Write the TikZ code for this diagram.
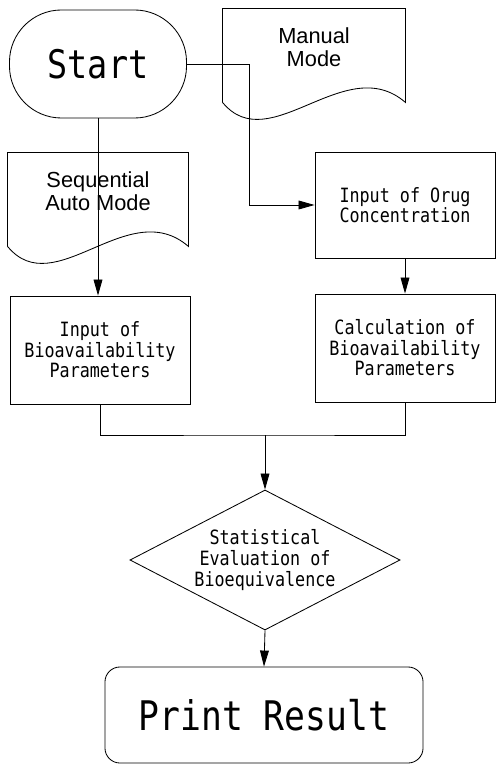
\documentclass[tikz,border=0pt]{standalone}
\usepackage{fontspec}
\usetikzlibrary{arrows.meta,positioning,shapes.geometric}
\newfontfamily\flowmono[FakeStretch=0.85]{DejaVu Sans Mono}
\newfontfamily\flowsans{Liberation Sans}

% document symbol: flat top, wavy bottom hanging below the node
\newcommand\docoutline[1]{%
  \draw (#1.north west) -- (#1.north east) -- ([yshift=-0.425cm]#1.south east)
    .. controls +(-60,-52) and +(47,57) .. ([yshift=-0.425cm]#1.south west) -- cycle;}

\begin{document}
\begin{tikzpicture}[
  x=0.025cm,y=-0.025cm,line width=0.6pt,
  txt/.style={font={\flowmono\fontsize{14}{14.6}\selectfont},align=center},
  box/.style={draw,txt,inner sep=0pt,minimum width=4.5cm,minimum height=2.7cm},
  doc/.style={font={\flowsans\fontsize{15.5}{16.5}\selectfont},align=center,
              inner sep=0pt,minimum width=4.5cm,minimum height=1.9cm},
  term/.style={draw,inner sep=0pt,font={\flowmono\fontsize{28}{28}\selectfont}},
  arr/.style={-{Triangle[length=0.4cm,width=0.22cm]}}
]
\useasboundingbox (0,0) rectangle (499,766);
\node[term,minimum width=4.425cm,minimum height=2.7cm,rounded corners=1.3cm](start) at (98,64){Start};
\node[doc,minimum width=4.55cm](manual) at (314,47){Manual\\Mode};
\node[doc](seq) at (98,191){Sequential\\Auto Mode};
\node[box,minimum height=2.65cm](drug) at (405,205){Input of Orug\\Concentration};
\node[box](bioin) at (100,350){Input of\\Bioavailability\\Parameters};
\node[box](calc) at (405,348){Calculation of\\Bioavailability\\Parameters};
\node[diamond,draw,txt,inner sep=0pt,aspect=1.93,minimum width=6.75cm,minimum height=3.5cm](stat) at (265,560){Statistical\\Evaluation of\\Bioequivalence};
\node[term,font={\flowmono\fontsize{29}{29}\selectfont},minimum width=7.95cm,minimum height=2.4cm,rounded corners=0.375cm](print) at (264,715){Print Result};
\docoutline{manual}\docoutline{seq}
\coordinate (jog) at (249,0);
\coordinate (join) at (265,435);
\draw[arr](start.east)--(start.east-|jog)|-(drug.west);
\draw[arr](start.south)--(start.south|-bioin.north);
\draw[arr](drug.south)--(drug.south|-calc.north);
\draw(bioin.south)|-(join)-|(calc.south);
\draw[arr](join)--(stat.north);\draw[arr](stat.south)--(print.north);
\end{tikzpicture}
\end{document}
